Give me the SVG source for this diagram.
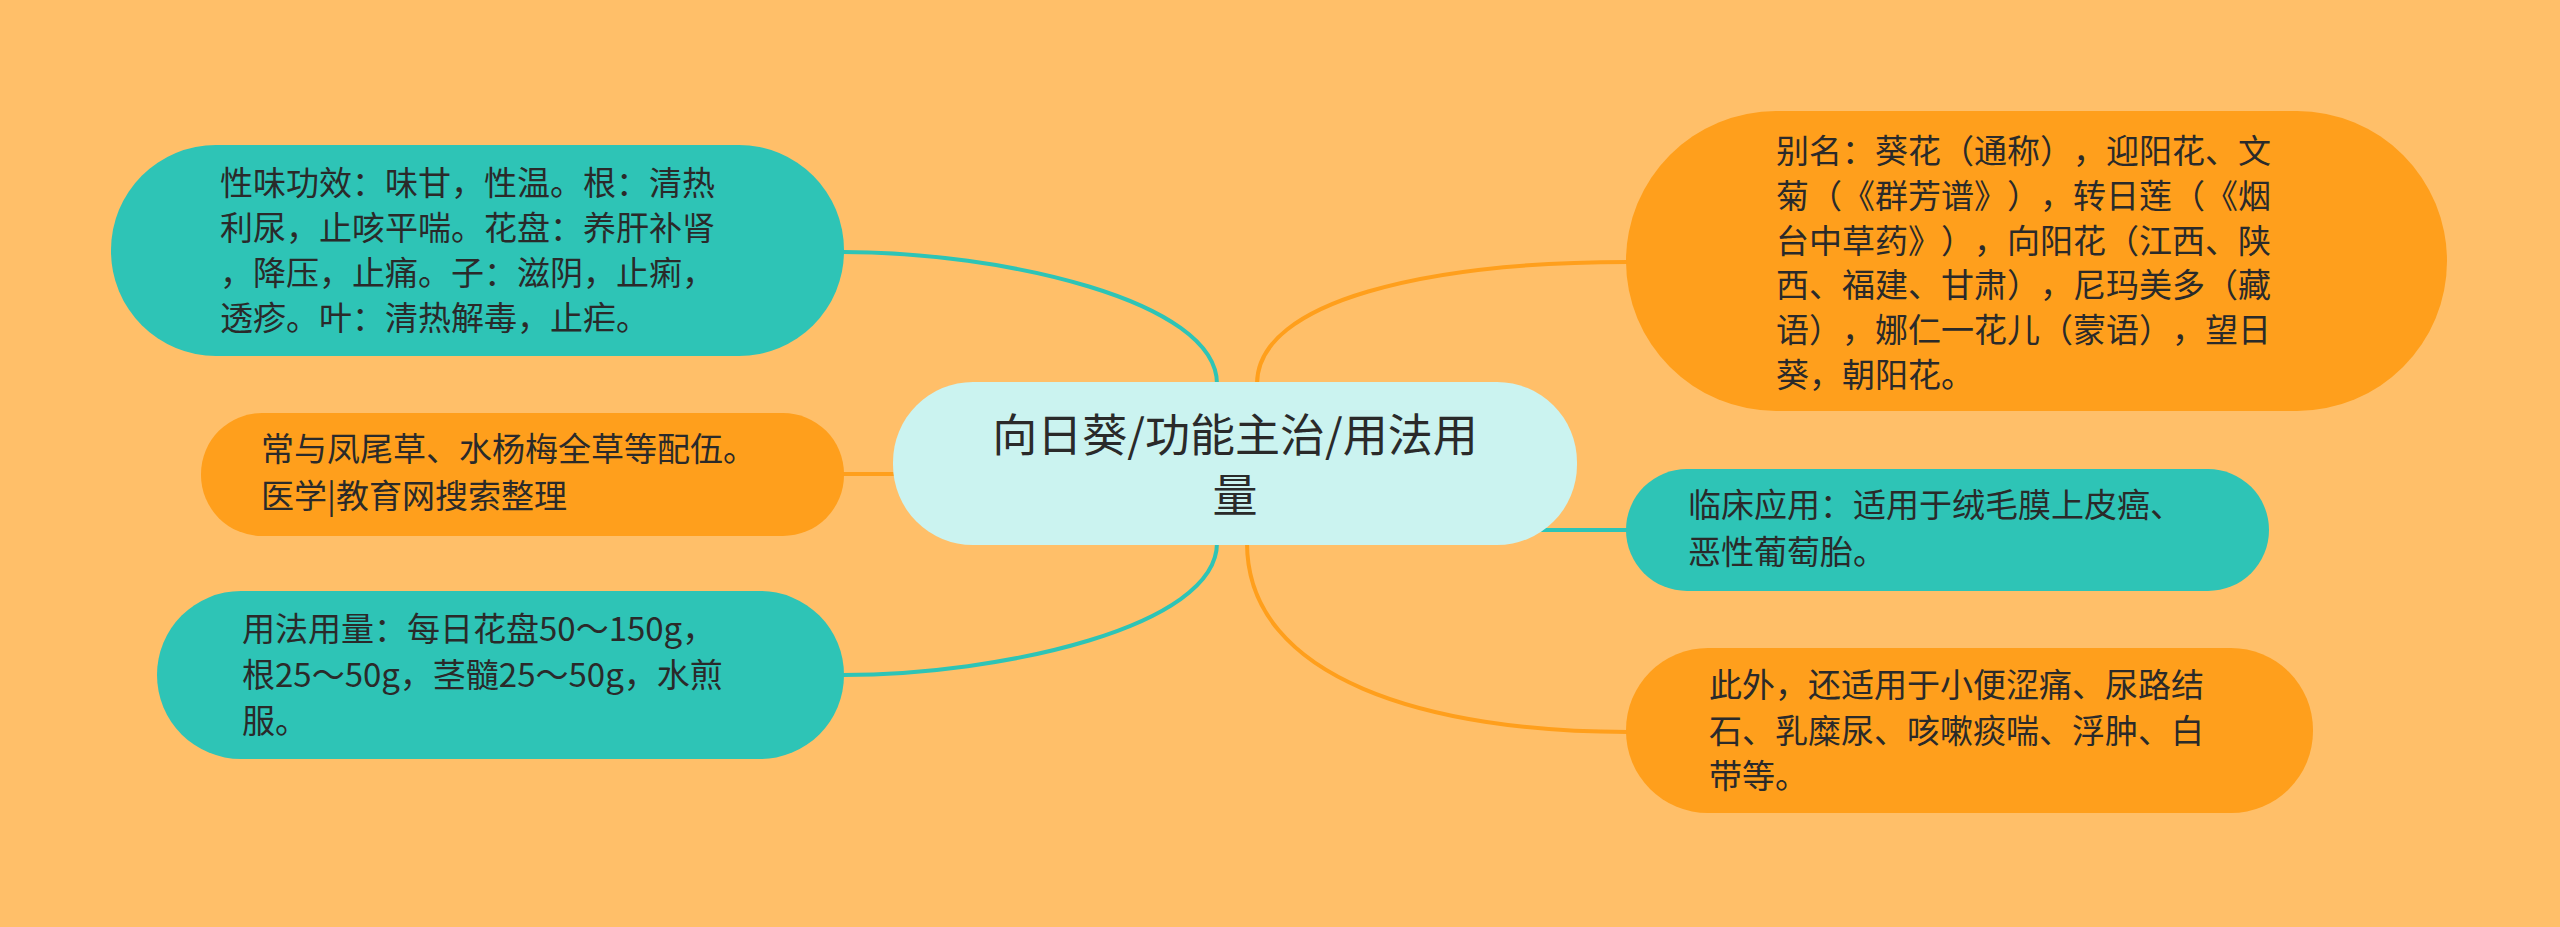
<svg xmlns="http://www.w3.org/2000/svg" width="2560" height="927" viewBox="0 0 2560 927">
<style>
.bg{fill:#FFBF69}
.teal{fill:#2EC4B6}
.orange{fill:#FF9F1C}
.center{fill:#CBF3F0}
.t{font-family:"Noto Sans CJK SC","Noto Sans",sans-serif;font-size:33px;fill:#2a2a2a;text-spacing-trim:space-all}
.tc{font-family:"Noto Sans CJK SC","Noto Sans",sans-serif;font-size:45px;fill:#2a2a2a;text-anchor:middle}
.lt{fill:none;stroke:#2EC4B6;stroke-width:4}
.lo{fill:none;stroke:#FF9F1C;stroke-width:4}
</style>
<rect class="bg" x="0" y="0" width="2560" height="927"/>
<g id="connectors">
<path class="lt" d="M843 252 C1000 252 1217 300 1217 384"/>
<path class="lo" d="M843 474 L895 474"/>
<path class="lt" d="M843 675 C1000 675 1217 627 1217 543"/>
<path class="lo" d="M1257 384 C1257 300 1430 262 1628 262"/>
<path class="lt" d="M1540 530 L1628 530"/>
<path class="lo" d="M1247 543 C1247 680 1430 732 1628 732"/>
</g>
<g id="center">
<rect class="center" x="893" y="382" width="684" height="163" rx="80" ry="80"/>
<text class="tc" x="1235" y="452">向日葵/功能主治/用法用</text>
<text class="tc" x="1235" y="512">量</text>
</g>
<g id="node-xingwei">
<rect class="teal" x="111" y="145" width="733" height="211" rx="105" ry="105"/>
<text class="t" x="220" y="195">性味功效：味甘，性温。根：清热</text>
<text class="t" x="220" y="240">利尿，止咳平喘。花盘：养肝补肾</text>
<text class="t" x="220" y="285">，降压，止痛。子：滋阴，止痢，</text>
<text class="t" x="220" y="330">透疹。叶：清热解毒，止疟。</text>
</g>
<g id="node-peiwu">
<rect class="orange" x="201" y="413" width="643" height="123" rx="61" ry="61"/>
<text class="t" x="261" y="461">常与凤尾草、水杨梅全草等配伍。</text>
<text class="t" x="261" y="508">医学|教育网搜索整理</text>
</g>
<g id="node-yongfa">
<rect class="teal" x="157" y="591" width="687" height="168" rx="84" ry="84"/>
<text class="t" x="242" y="641">用法用量：每日花盘50～150g，</text>
<text class="t" x="242" y="687">根25～50g，茎髓25～50g，水煎</text>
<text class="t" x="242" y="733">服。</text>
</g>
<g id="node-bieming">
<rect class="orange" x="1626" y="111" width="821" height="300" rx="150" ry="150"/>
<text class="t" x="1776" y="163">别名：葵花（通称），迎阳花、文</text>
<text class="t" x="1776" y="208">菊（《群芳谱》），转日莲（《烟</text>
<text class="t" x="1776" y="253">台中草药》），向阳花（江西、陕</text>
<text class="t" x="1776" y="297">西、福建、甘肃），尼玛美多（藏</text>
<text class="t" x="1776" y="342">语），娜仁一花儿（蒙语），望日</text>
<text class="t" x="1776" y="387">葵，朝阳花。</text>
</g>
<g id="node-linchuang">
<rect class="teal" x="1626" y="469" width="643" height="122" rx="61" ry="61"/>
<text class="t" x="1688" y="517">临床应用：适用于绒毛膜上皮癌、</text>
<text class="t" x="1688" y="564">恶性葡萄胎。</text>
</g>
<g id="node-ciwai">
<rect class="orange" x="1626" y="648" width="687" height="165" rx="82" ry="82"/>
<text class="t" x="1709" y="697">此外，还适用于小便涩痛、尿路结</text>
<text class="t" x="1709" y="743">石、乳糜尿、咳嗽痰喘、浮肿、白</text>
<text class="t" x="1709" y="788">带等。</text>
</g>
</svg>
